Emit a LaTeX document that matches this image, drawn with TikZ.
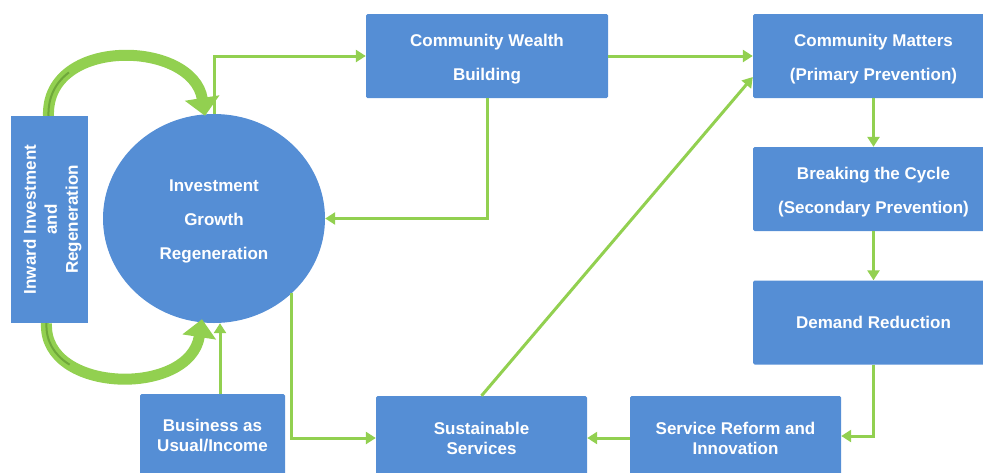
\documentclass[tikz,border=0pt]{standalone}
\usepackage{fontspec}
\setmainfont{Liberation Sans}
\usetikzlibrary{arrows.meta,shapes.geometric,calc}
\definecolor{boxblue}{HTML}{558ED5}
\definecolor{arrgreen}{HTML}{92D050}
\definecolor{darkgreen}{HTML}{6FA83A}
\newcommand\mystrutA{\rule{0pt}{18.5pt}}
\begin{document}
\begin{tikzpicture}[x=1pt,y=-1pt,
  box/.style={fill=boxblue, draw=none, text=white, rounded corners=1.5pt,
    font=\bfseries\fontsize{17}{34}\selectfont, align=center, inner sep=0pt},
  lowbox/.style={box, font=\bfseries\fontsize{17}{20}\selectfont},
  conn/.style={draw=arrgreen, line width=3pt, -{Triangle[width=12pt,length=10pt]}},
  bigarrow/.style={draw=arrgreen, line width=11pt},
  stripe/.style={draw=darkgreen, line width=2pt, dash pattern=on 50pt off 2000pt}]
\useasboundingbox (0,0) rectangle (983,472);

% nodes
\node[box, rounded corners=0pt, rotate=90, minimum width=207pt, minimum height=77pt,
  font=\bfseries\fontsize{17}{21}\selectfont] (iir) at (49.5,219.5)
  {\mystrutA Inward Investment\\and\\Regeneration};
\node[ellipse, fill=boxblue, text=white, minimum width=222pt, minimum height=209pt,
  inner sep=0pt, align=center, font=\bfseries\fontsize{17}{34}\selectfont] (circ) at (214,218.5)
  {\mystrutA Investment\\Growth\\Regeneration};
\node[box, minimum width=242pt, minimum height=84pt] (cwb) at (487,56) {\mystrutA Community Wealth\\Building};
\node[box, minimum width=241pt, minimum height=84pt] (cm) at (873.5,56) {\mystrutA Community Matters\\(Primary Prevention)};
\node[box, minimum width=241pt, minimum height=84pt] (bc) at (873.5,189) {\mystrutA Breaking the Cycle\\(Secondary Prevention)};
\node[box, minimum width=241pt, minimum height=84pt] (dr) at (873.5,322.5) {Demand Reduction};
\node[lowbox, minimum width=211pt, minimum height=84pt] (sr) at (735.5,438) {Service Reform and\\Innovation};
\node[lowbox, minimum width=211pt, minimum height=84pt] (ss) at (481.5,438) {Sustainable\\Services};
\node[lowbox, minimum width=145pt, minimum height=84pt] (bau) at (212.5,436) {Business as\\Usual/Income};

% big curved arrows
\draw[bigarrow, -{Triangle[width=34pt,length=18pt]}] ($(iir.east)+(-1,0)$) .. controls (46,36) and (193,40) .. ($(circ.north)+(-9,2)$);
\draw[stripe] ($(iir.east)+(-1,0)$) .. controls (46,36) and (193,40) .. ($(circ.north)+(-9,2)$);
\draw[bigarrow, -{Triangle[width=33pt,length=18pt]}] ($(iir.west)+(-3,0)$) .. controls (43,394) and (190,397) .. ($(circ.south)+(-12,-4)$);
\draw[stripe] ($(iir.west)+(-3,0)$) .. controls (43,394) and (190,397) .. ($(circ.south)+(-12,-4)$);

% connectors
\draw[conn] (circ.north) |- (cwb.west);
\draw[conn] (cwb.south) |- (circ.east);
\draw[conn] (cwb.east) -- (cm.west);
\draw[conn] (ss.north) -- ($(cm.west)+(0,21)$);
\draw[conn] (cm.south) -- (bc.north);
\draw[conn] (bc.south) -- (dr.north);
\draw[conn] (dr.south) |- ($(sr.east)+(0,-2)$);
\draw[conn] (sr.west) -- (ss.east);
\draw[conn] (circ.-44.4) |- (ss.west);
\coordinate (bautop) at ($(bau.north)+(7.5,0)$);
\draw[conn] (bautop) -- (bautop |- circ.south);
\end{tikzpicture}
\end{document}
